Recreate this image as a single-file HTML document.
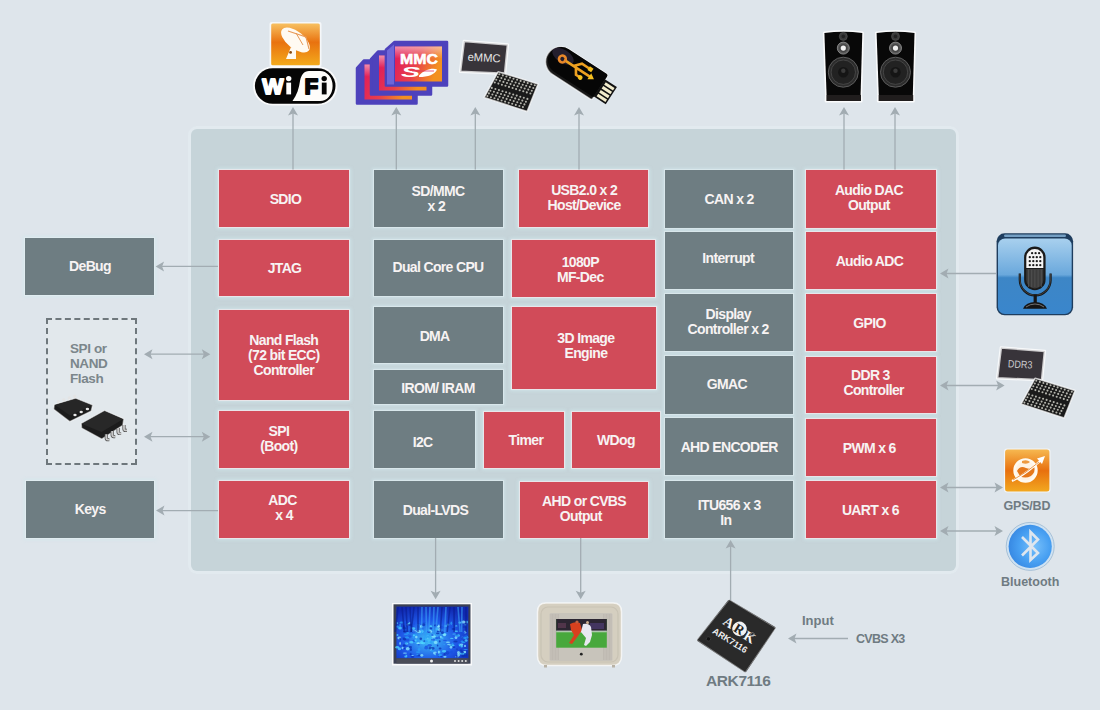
<!DOCTYPE html>
<html><head><meta charset="utf-8">
<style>
html,body{margin:0;padding:0;}
body{width:1100px;height:710px;overflow:hidden;position:relative;background:#dee5eb;font-family:"Liberation Sans",sans-serif;}
.a{position:absolute;}
.bx{position:absolute;box-sizing:border-box;display:flex;align-items:center;justify-content:center;text-align:center;color:#f7f3f3;font-weight:bold;font-size:14px;line-height:15px;letter-spacing:-0.65px;}
.r{background:#d14b59;box-shadow:0 0 0 1px rgba(255,235,238,0.55),0 0 3px 2px rgba(208,232,238,0.7);}
.g{background:#6e7d82;box-shadow:0 0 0 1px rgba(235,242,245,0.45),0 0 3px 2px rgba(208,232,238,0.6);}
.lbl{position:absolute;color:#6f7b82;font-weight:bold;white-space:nowrap;}
</style></head><body>

<div class="a" style="left:191px;top:128.5px;width:765px;height:442px;background:#c6d4d9;border-radius:6px;box-shadow:0 0 0 3px rgba(235,244,248,0.3);"></div>
<div class="bx r" style="left:218.5px;top:169.5px;width:130.0px;height:57.7px;"><span style="position:relative;left:2.0px;top:1.4px">SDIO</span></div>
<div class="bx r" style="left:218.5px;top:239.8px;width:130.0px;height:56.4px;"><span style="position:relative;left:1.0px;top:0.3px">JTAG</span></div>
<div class="bx r" style="left:218.5px;top:310.0px;width:130.0px;height:89.8px;"><span style="position:relative;left:0.3px;top:0.5px">Nand Flash<br>(72 bit ECC)<br>Controller</span></div>
<div class="bx r" style="left:218.5px;top:411.4px;width:130.0px;height:57.0px;"><span style="position:relative;left:-4.7px;top:-0.8px">SPI<br>(Boot)</span></div>
<div class="bx r" style="left:218.5px;top:481.1px;width:130.0px;height:57.0px;"><span style="position:relative;left:-1.0px;top:-1.5px">ADC<br>&nbsp;x 4</span></div>
<div class="bx g" style="left:373.5px;top:169.5px;width:129.0px;height:57.7px;"><span style="position:relative;left:0.0px;top:1.0px">SD/MMC<br>x 2&nbsp;</span></div>
<div class="bx g" style="left:373.5px;top:239.8px;width:129.0px;height:56.4px;"><span style="position:relative;left:0.0px;top:0.0px">Dual Core CPU</span></div>
<div class="bx g" style="left:373.5px;top:306.5px;width:129.0px;height:56.4px;"><span style="position:relative;left:-3.4px;top:2.0px">DMA</span></div>
<div class="bx g" style="left:373.5px;top:370.3px;width:129.0px;height:33.3px;"><span style="position:relative;left:0.0px;top:1.3px">IROM/ IRAM</span></div>
<div class="bx g" style="left:373.5px;top:410.7px;width:101.0px;height:57.3px;"><span style="position:relative;left:-1.4px;top:3.0px">I2C</span></div>
<div class="bx g" style="left:373.5px;top:480.6px;width:129.0px;height:57.5px;"><span style="position:relative;left:-2.6px;top:0.7px">Dual-LVDS</span></div>
<div class="bx r" style="left:519.4px;top:169.5px;width:128.4px;height:57.7px;"><span style="position:relative;left:0.5px;top:0.0px">USB2.0 x 2<br>Host/Device</span></div>
<div class="bx r" style="left:512.0px;top:239.8px;width:142.5px;height:57.1px;"><span style="position:relative;left:-3.0px;top:1.2px">1080P<br>MF-Dec</span></div>
<div class="bx r" style="left:512.0px;top:306.9px;width:143.8px;height:81.9px;"><span style="position:relative;left:2.0px;top:-1.6px">3D Image<br>Engine</span></div>
<div class="bx r" style="left:483.7px;top:412.2px;width:80.8px;height:56.0px;"><span style="position:relative;left:1.8px;top:0.0px">Timer</span></div>
<div class="bx r" style="left:572.3px;top:412.2px;width:87.3px;height:56.0px;"><span style="position:relative;left:0.0px;top:0.7px">WDog</span></div>
<div class="bx r" style="left:519.8px;top:481.6px;width:128.5px;height:56.5px;"><span style="position:relative;left:0.0px;top:-0.6px">AHD or CVBS<br>Output&nbsp;&nbsp;</span></div>
<div class="bx g" style="left:665.2px;top:169.5px;width:128.0px;height:58.5px;"><span style="position:relative;left:0.0px;top:0.8px">CAN x 2</span></div>
<div class="bx g" style="left:665.2px;top:232.2px;width:128.0px;height:56.6px;"><span style="position:relative;left:-1.0px;top:-1.5px">Interrupt</span></div>
<div class="bx g" style="left:665.2px;top:293.6px;width:128.0px;height:57.2px;"><span style="position:relative;left:-1.0px;top:0.0px">Display<br>Controller x 2</span></div>
<div class="bx g" style="left:665.2px;top:356.0px;width:128.0px;height:57.5px;"><span style="position:relative;left:-2.3px;top:-0.5px">GMAC</span></div>
<div class="bx g" style="left:665.2px;top:418.3px;width:128.0px;height:57.2px;"><span style="position:relative;left:0.0px;top:1.0px">AHD ENCODER</span></div>
<div class="bx g" style="left:665.2px;top:480.6px;width:128.0px;height:57.5px;"><span style="position:relative;left:0.0px;top:4.0px">ITU656 x 3<br>In&nbsp;&nbsp;</span></div>
<div class="bx r" style="left:805.5px;top:169.5px;width:130.8px;height:58.0px;"><span style="position:relative;left:-2.0px;top:-0.8px">Audio DAC<br>Output</span></div>
<div class="bx r" style="left:805.5px;top:232.1px;width:130.8px;height:56.7px;"><span style="position:relative;left:-1.5px;top:1.5px">Audio ADC</span></div>
<div class="bx r" style="left:805.5px;top:293.7px;width:130.8px;height:57.1px;"><span style="position:relative;left:-1.4px;top:1.0px">GPIO</span></div>
<div class="bx r" style="left:805.5px;top:356.5px;width:130.8px;height:56.5px;"><span style="position:relative;left:-0.5px;top:-2.0px">DDR 3<br>&nbsp;&nbsp;Controller</span></div>
<div class="bx r" style="left:805.5px;top:419.0px;width:130.8px;height:56.5px;"><span style="position:relative;left:-1.7px;top:1.0px">PWM x 6</span></div>
<div class="bx r" style="left:805.5px;top:480.8px;width:130.8px;height:57.3px;"><span style="position:relative;left:-0.5px;top:1.0px">UART x 6</span></div>
<div class="bx g" style="left:25.0px;top:238.0px;width:129.0px;height:57.0px;"><span style="position:relative;left:0.5px;top:0.0px">DeBug</span></div>
<div class="bx g" style="left:26.0px;top:481.4px;width:128.4px;height:56.6px;"><span style="position:relative;left:0.0px;top:-0.7px">Keys</span></div>
<svg class="a" style="left:0;top:0" width="1100" height="710" viewBox="0 0 1100 710">
<line x1="293.0" y1="113.0" x2="293.0" y2="169.5" stroke="#a2acb2" stroke-width="1.3"/>
<polygon points="293.0,107.0 298.0,115.5 293.0,113.5 288.0,115.5" fill="#a2acb2"/>
<line x1="396.3" y1="113.0" x2="396.3" y2="169.5" stroke="#a2acb2" stroke-width="1.3"/>
<polygon points="396.3,107.0 401.3,115.5 396.3,113.5 391.3,115.5" fill="#a2acb2"/>
<line x1="475.3" y1="113.0" x2="475.3" y2="169.5" stroke="#a2acb2" stroke-width="1.3"/>
<polygon points="475.3,107.0 480.3,115.5 475.3,113.5 470.3,115.5" fill="#a2acb2"/>
<line x1="579.0" y1="113.0" x2="579.0" y2="169.5" stroke="#a2acb2" stroke-width="1.3"/>
<polygon points="579.0,107.0 584.0,115.5 579.0,113.5 574.0,115.5" fill="#a2acb2"/>
<line x1="844.0" y1="113.0" x2="844.0" y2="169.5" stroke="#a2acb2" stroke-width="1.3"/>
<polygon points="844.0,107.0 849.0,115.5 844.0,113.5 839.0,115.5" fill="#a2acb2"/>
<line x1="895.0" y1="113.0" x2="895.0" y2="169.5" stroke="#a2acb2" stroke-width="1.3"/>
<polygon points="895.0,107.0 900.0,115.5 895.0,113.5 890.0,115.5" fill="#a2acb2"/>
<line x1="162.0" y1="266.4" x2="218.0" y2="266.4" stroke="#a2acb2" stroke-width="1.3"/>
<polygon points="155.6,266.4 164.1,261.4 162.1,266.4 164.1,271.4" fill="#a2acb2"/>
<line x1="162.0" y1="510.6" x2="218.0" y2="510.6" stroke="#a2acb2" stroke-width="1.3"/>
<polygon points="156.0,510.6 164.5,505.6 162.5,510.6 164.5,515.6" fill="#a2acb2"/>
<line x1="150.0" y1="354.2" x2="204.0" y2="354.2" stroke="#a2acb2" stroke-width="1.3"/>
<polygon points="144.0,354.2 152.5,349.2 150.5,354.2 152.5,359.2" fill="#a2acb2"/>
<polygon points="210.3,354.2 201.8,359.2 203.8,354.2 201.8,349.2" fill="#a2acb2"/>
<line x1="150.0" y1="436.7" x2="204.0" y2="436.7" stroke="#a2acb2" stroke-width="1.3"/>
<polygon points="144.0,436.7 152.5,431.7 150.5,436.7 152.5,441.7" fill="#a2acb2"/>
<polygon points="210.3,436.7 201.8,441.7 203.8,436.7 201.8,431.7" fill="#a2acb2"/>
<line x1="946.0" y1="273.5" x2="996.0" y2="273.5" stroke="#a2acb2" stroke-width="1.3"/>
<polygon points="940.0,273.5 948.5,268.5 946.5,273.5 948.5,278.5" fill="#a2acb2"/>
<line x1="946.0" y1="385.5" x2="998.6" y2="385.5" stroke="#a2acb2" stroke-width="1.3"/>
<polygon points="940.0,385.5 948.5,380.5 946.5,385.5 948.5,390.5" fill="#a2acb2"/>
<polygon points="1004.6,385.5 996.1,390.5 998.1,385.5 996.1,380.5" fill="#a2acb2"/>
<line x1="946.0" y1="487.5" x2="997.0" y2="487.5" stroke="#a2acb2" stroke-width="1.3"/>
<polygon points="940.0,487.5 948.5,482.5 946.5,487.5 948.5,492.5" fill="#a2acb2"/>
<polygon points="1003.0,487.5 994.5,492.5 996.5,487.5 994.5,482.5" fill="#a2acb2"/>
<line x1="946.0" y1="531.0" x2="997.0" y2="531.0" stroke="#a2acb2" stroke-width="1.3"/>
<polygon points="940.0,531.0 948.5,526.0 946.5,531.0 948.5,536.0" fill="#a2acb2"/>
<polygon points="1003.0,531.0 994.5,536.0 996.5,531.0 994.5,526.0" fill="#a2acb2"/>
<line x1="435.6" y1="538.0" x2="435.6" y2="593.0" stroke="#a2acb2" stroke-width="1.3"/>
<polygon points="435.6,599.3 430.6,590.8 435.6,592.8 440.6,590.8" fill="#a2acb2"/>
<line x1="580.7" y1="538.0" x2="580.7" y2="593.0" stroke="#a2acb2" stroke-width="1.3"/>
<polygon points="580.7,599.3 575.7,590.8 580.7,592.8 585.7,590.8" fill="#a2acb2"/>
<line x1="730.6" y1="546.0" x2="730.6" y2="601.0" stroke="#a2acb2" stroke-width="1.3"/>
<polygon points="730.6,540.0 735.6,548.5 730.6,546.5 725.6,548.5" fill="#a2acb2"/>
<line x1="794.0" y1="638.5" x2="848.0" y2="638.5" stroke="#a2acb2" stroke-width="1.3"/>
<polygon points="788.0,638.5 796.5,633.5 794.5,638.5 796.5,643.5" fill="#a2acb2"/>
</svg>
<div class="a" style="left:46px;top:317.5px;width:91px;height:147px;box-sizing:border-box;border:2px dashed #6e777c;background:#e2e8ec;"></div>
<div class="lbl" style="left:70px;top:340.5px;font-size:13.5px;line-height:15px;letter-spacing:-0.4px;color:#7b868b;">SPI or<br>NAND<br>Flash</div>
<div class="lbl" style="left:1003.5px;top:499px;font-size:12.5px;letter-spacing:-0.2px;">GPS/BD</div>
<div class="lbl" style="left:1001px;top:575px;font-size:12.5px;">Bluetooth</div>
<div class="lbl" style="left:706px;top:672px;font-size:15.5px;letter-spacing:-0.4px;">ARK7116</div>
<div class="lbl" style="left:802px;top:613px;font-size:13px;">Input</div>
<div class="lbl" style="left:856px;top:632px;font-size:12.5px;letter-spacing:-0.7px;">CVBS X3</div>
<svg class="a" style="left:0;top:0" width="1100" height="710" viewBox="0 0 1100 710">
<defs>
 <linearGradient id="gOr" x1="0" y1="0" x2="0" y2="1">
  <stop offset="0" stop-color="#f7c060"/><stop offset="0.45" stop-color="#e9720f"/><stop offset="1" stop-color="#f3aa1c"/>
 </linearGradient>
 <linearGradient id="gSd" x1="0" y1="0" x2="1" y2="0.3">
  <stop offset="0" stop-color="#e0185c"/><stop offset="0.55" stop-color="#e8404a"/><stop offset="1" stop-color="#f39020"/>
 </linearGradient>
</defs>
<!-- WIFI -->
<g>
 <rect x="269.5" y="22" width="52" height="45" rx="2" fill="#fff" opacity="0.7"/>
 <rect x="271.2" y="23.5" width="48.6" height="41.8" rx="1.5" fill="url(#gOr)"/>
 <ellipse cx="295.5" cy="40" rx="17" ry="8.5" transform="rotate(38 295.5 40)" fill="#fffaf2"/>
 <path d="M288,31 L306,37 L309,49" stroke="#e89a58" stroke-width="1.1" fill="none"/>
 <path d="M296,33 L303,45" stroke="#e89a58" stroke-width="1" fill="none"/>
 <path d="M291,47 L286,59 L296,59 L296,49 Z" fill="#fffaf2"/>
 <circle cx="290.6" cy="52.4" r="1.4" fill="#8a4a10"/>
 <rect x="253" y="66.5" width="84.5" height="39" rx="19.5" fill="#fff" opacity="0.8"/>
 <rect x="254.9" y="68.2" width="80.6" height="35.6" rx="17.8" fill="#050505"/>
 <path d="M309,71 L320,71 A12.5,15 0 0 1 332.6,86 A12.5,15 0 0 1 320,101 L292.5,101 C297,95 299,88 300,81 C301,75 304,71 309,71 Z" fill="#fefdfa"/>
 <text x="262.2" y="94.4" font-family="Liberation Sans" font-weight="bold" font-size="22.5" fill="#fff" stroke="#fff" stroke-width="1.8" stroke-linejoin="round">W</text>
 <rect x="286.3" y="82.6" width="4.8" height="11.8" fill="#fff"/><circle cx="288.7" cy="78.6" r="2.7" fill="#fff"/>
 <text x="304.4" y="94.4" font-family="Liberation Sans" font-weight="bold" font-size="22.5" fill="#050505" stroke="#050505" stroke-width="1.8" stroke-linejoin="round">F</text>
 <rect x="321.8" y="82.6" width="4.8" height="11.8" fill="#050505"/><circle cx="324.2" cy="78.6" r="2.7" fill="#050505"/>
</g>
<!-- SD CARDS -->
<defs>
 <linearGradient id="gSdTop" x1="0" y1="0" x2="0" y2="1">
  <stop offset="0" stop-color="#fff" stop-opacity="0.5"/><stop offset="0.35" stop-color="#fff" stop-opacity="0"/>
 </linearGradient>
</defs>
<g stroke-linejoin="round">
 <path d="M357,68 L364,60.4 L416.5,60.4 L416.5,103.5 L357,103.5 Z" fill="#4d42bc" stroke="#4d42bc" stroke-width="2.5"/>
 <rect x="364.5" y="64.5" width="47.5" height="35" fill="url(#gSd)"/>
 <rect x="364.5" y="64.5" width="47.5" height="35" fill="url(#gSdTop)"/>
 <path d="M371,59 L378,51.5 L431,51.5 L431,94.6 L371,94.6 Z" fill="#4d42bc" stroke="#4d42bc" stroke-width="2.5"/>
 <rect x="379" y="55.5" width="47.5" height="35" fill="url(#gSd)"/>
 <rect x="379" y="55.5" width="47.5" height="35" fill="url(#gSdTop)"/>
 <path d="M385.9,49.7 L394.6,42 L447,42 L447,85.6 L385.9,85.6 Z" fill="#4d42bc" stroke="#4d42bc" stroke-width="2.5"/>
 <path d="M387,50.5 L394,44.5 L394,84.5 L387,84.5 Z" fill="#6e66d8"/>
 <rect x="395" y="46.5" width="47" height="35" fill="url(#gSd)"/>
 <rect x="395" y="46.5" width="47" height="35" fill="url(#gSdTop)"/>
 <text x="400" y="63.5" font-family="Liberation Sans" font-weight="bold" font-size="15" fill="#fff" stroke="#fff" stroke-width="0.6" textLength="38" lengthAdjust="spacingAndGlyphs">MMC</text>
 <text x="401" y="77" font-family="Liberation Sans" font-weight="bold" font-style="italic" font-size="15" fill="#fff" textLength="19" lengthAdjust="spacingAndGlyphs">S</text>
 <path d="M419,75.5 C424,70 432,67.5 437,69.5 C435,74.5 428,77 419,77 Z" fill="#fff"/>
 <path d="M412,71 L434,71" stroke="#e0306a" stroke-width="0.8"/>
</g>
</svg>
<svg class="a" style="left:0;top:0" width="1100" height="710" viewBox="0 0 1100 710">
<defs>
 <linearGradient id="gBlue" x1="0" y1="0" x2="0" y2="1">
  <stop offset="0" stop-color="#a8d0ee"/><stop offset="0.48" stop-color="#6aa8dc"/><stop offset="0.52" stop-color="#3d86c6"/><stop offset="1" stop-color="#3a86cc"/>
 </linearGradient>
 <radialGradient id="gBt" cx="0.6" cy="0.5" r="0.65">
  <stop offset="0" stop-color="#78c0fa"/><stop offset="0.55" stop-color="#48a0f2"/><stop offset="1" stop-color="#3484e0"/>
 </radialGradient>
 <radialGradient id="gScr" cx="0.45" cy="0.65" r="0.7">
  <stop offset="0" stop-color="#40c0f8"/><stop offset="0.55" stop-color="#1e58e8"/><stop offset="1" stop-color="#1028b0"/>
 </radialGradient>
 <linearGradient id="gField" x1="0" y1="0" x2="0" y2="1">
  <stop offset="0" stop-color="#2a2a30"/><stop offset="0.35" stop-color="#5a4040"/><stop offset="0.45" stop-color="#3c9a38"/><stop offset="1" stop-color="#48a83a"/>
 </linearGradient>
 <linearGradient id="gOr2" x1="0" y1="0" x2="0" y2="1">
  <stop offset="0" stop-color="#f6b850"/><stop offset="0.5" stop-color="#e8700e"/><stop offset="1" stop-color="#f2a820"/>
 </linearGradient>
</defs>
<polygon points="463.9,41.0 507.9,44.5 505.0,73.7 460.1,71.8" fill="#38343a" stroke="#fff" stroke-opacity="0.75" stroke-width="2.5" stroke-linejoin="round"/>
<text x="467.6" y="61.5" font-family="Liberation Sans" font-size="11.5" fill="#e6e6e6" transform="rotate(3 484.0 57.0)" textLength="33.0" lengthAdjust="spacingAndGlyphs">eMMC</text>
<polygon points="498.2,71.7 538.0,84.0 527.1,111.5 484.2,97.4" fill="#1a1a1a" stroke="#fff" stroke-opacity="0.7" stroke-width="1.5" stroke-linejoin="round"/>
<circle cx="499.3" cy="74.3" r="1.05" fill="#b4b4ac"/>
<circle cx="502.8" cy="75.4" r="1.05" fill="#b4b4ac"/>
<circle cx="506.4" cy="76.5" r="1.05" fill="#b4b4ac"/>
<circle cx="510.0" cy="77.6" r="1.05" fill="#b4b4ac"/>
<circle cx="513.5" cy="78.7" r="1.05" fill="#b4b4ac"/>
<circle cx="517.1" cy="79.8" r="1.05" fill="#b4b4ac"/>
<circle cx="520.6" cy="80.9" r="1.05" fill="#b4b4ac"/>
<circle cx="524.2" cy="82.0" r="1.05" fill="#b4b4ac"/>
<circle cx="527.7" cy="83.1" r="1.05" fill="#b4b4ac"/>
<circle cx="531.3" cy="84.2" r="1.05" fill="#b4b4ac"/>
<circle cx="534.8" cy="85.3" r="1.05" fill="#b4b4ac"/>
<circle cx="497.8" cy="77.0" r="1.05" fill="#b4b4ac"/>
<circle cx="501.4" cy="78.1" r="1.05" fill="#b4b4ac"/>
<circle cx="504.9" cy="79.2" r="1.05" fill="#b4b4ac"/>
<circle cx="508.5" cy="80.3" r="1.05" fill="#b4b4ac"/>
<circle cx="512.0" cy="81.4" r="1.05" fill="#b4b4ac"/>
<circle cx="515.6" cy="82.5" r="1.05" fill="#b4b4ac"/>
<circle cx="519.1" cy="83.6" r="1.05" fill="#b4b4ac"/>
<circle cx="522.7" cy="84.7" r="1.05" fill="#b4b4ac"/>
<circle cx="526.2" cy="85.8" r="1.05" fill="#b4b4ac"/>
<circle cx="529.8" cy="86.9" r="1.05" fill="#b4b4ac"/>
<circle cx="533.3" cy="88.0" r="1.05" fill="#b4b4ac"/>
<circle cx="496.3" cy="79.7" r="1.05" fill="#b4b4ac"/>
<circle cx="499.9" cy="80.8" r="1.05" fill="#b4b4ac"/>
<circle cx="503.4" cy="81.9" r="1.05" fill="#b4b4ac"/>
<circle cx="507.0" cy="83.0" r="1.05" fill="#b4b4ac"/>
<circle cx="510.5" cy="84.1" r="1.05" fill="#b4b4ac"/>
<circle cx="514.1" cy="85.2" r="1.05" fill="#b4b4ac"/>
<circle cx="517.6" cy="86.3" r="1.05" fill="#b4b4ac"/>
<circle cx="521.2" cy="87.4" r="1.05" fill="#b4b4ac"/>
<circle cx="524.7" cy="88.5" r="1.05" fill="#b4b4ac"/>
<circle cx="528.3" cy="89.6" r="1.05" fill="#b4b4ac"/>
<circle cx="531.8" cy="90.7" r="1.05" fill="#b4b4ac"/>
<circle cx="494.8" cy="82.5" r="1.05" fill="#b4b4ac"/>
<circle cx="498.4" cy="83.6" r="1.05" fill="#b4b4ac"/>
<circle cx="501.9" cy="84.7" r="1.05" fill="#b4b4ac"/>
<circle cx="505.5" cy="85.8" r="1.05" fill="#b4b4ac"/>
<circle cx="509.0" cy="86.9" r="1.05" fill="#b4b4ac"/>
<circle cx="512.6" cy="88.0" r="1.05" fill="#b4b4ac"/>
<circle cx="516.1" cy="89.1" r="1.05" fill="#b4b4ac"/>
<circle cx="519.7" cy="90.2" r="1.05" fill="#b4b4ac"/>
<circle cx="523.3" cy="91.3" r="1.05" fill="#b4b4ac"/>
<circle cx="526.8" cy="92.4" r="1.05" fill="#b4b4ac"/>
<circle cx="530.4" cy="93.5" r="1.05" fill="#b4b4ac"/>
<circle cx="491.8" cy="87.9" r="1.05" fill="#b4b4ac"/>
<circle cx="495.4" cy="89.0" r="1.05" fill="#b4b4ac"/>
<circle cx="498.9" cy="90.1" r="1.05" fill="#b4b4ac"/>
<circle cx="502.5" cy="91.2" r="1.05" fill="#b4b4ac"/>
<circle cx="506.1" cy="92.3" r="1.05" fill="#b4b4ac"/>
<circle cx="509.6" cy="93.4" r="1.05" fill="#b4b4ac"/>
<circle cx="513.2" cy="94.5" r="1.05" fill="#b4b4ac"/>
<circle cx="516.7" cy="95.6" r="1.05" fill="#b4b4ac"/>
<circle cx="520.3" cy="96.7" r="1.05" fill="#b4b4ac"/>
<circle cx="523.8" cy="97.8" r="1.05" fill="#b4b4ac"/>
<circle cx="527.4" cy="98.9" r="1.05" fill="#b4b4ac"/>
<circle cx="490.4" cy="90.7" r="1.05" fill="#b4b4ac"/>
<circle cx="493.9" cy="91.8" r="1.05" fill="#b4b4ac"/>
<circle cx="497.5" cy="92.9" r="1.05" fill="#b4b4ac"/>
<circle cx="501.0" cy="94.0" r="1.05" fill="#b4b4ac"/>
<circle cx="504.6" cy="95.1" r="1.05" fill="#b4b4ac"/>
<circle cx="508.1" cy="96.2" r="1.05" fill="#b4b4ac"/>
<circle cx="511.7" cy="97.3" r="1.05" fill="#b4b4ac"/>
<circle cx="515.2" cy="98.4" r="1.05" fill="#b4b4ac"/>
<circle cx="518.8" cy="99.5" r="1.05" fill="#b4b4ac"/>
<circle cx="522.3" cy="100.6" r="1.05" fill="#b4b4ac"/>
<circle cx="525.9" cy="101.7" r="1.05" fill="#b4b4ac"/>
<circle cx="488.9" cy="93.4" r="1.05" fill="#b4b4ac"/>
<circle cx="492.4" cy="94.5" r="1.05" fill="#b4b4ac"/>
<circle cx="496.0" cy="95.6" r="1.05" fill="#b4b4ac"/>
<circle cx="499.5" cy="96.7" r="1.05" fill="#b4b4ac"/>
<circle cx="503.1" cy="97.8" r="1.05" fill="#b4b4ac"/>
<circle cx="506.6" cy="98.9" r="1.05" fill="#b4b4ac"/>
<circle cx="510.2" cy="100.0" r="1.05" fill="#b4b4ac"/>
<circle cx="513.7" cy="101.1" r="1.05" fill="#b4b4ac"/>
<circle cx="517.3" cy="102.2" r="1.05" fill="#b4b4ac"/>
<circle cx="520.8" cy="103.3" r="1.05" fill="#b4b4ac"/>
<circle cx="524.4" cy="104.4" r="1.05" fill="#b4b4ac"/>
<circle cx="487.4" cy="96.1" r="1.05" fill="#b4b4ac"/>
<circle cx="490.9" cy="97.2" r="1.05" fill="#b4b4ac"/>
<circle cx="494.5" cy="98.3" r="1.05" fill="#b4b4ac"/>
<circle cx="498.0" cy="99.4" r="1.05" fill="#b4b4ac"/>
<circle cx="501.6" cy="100.5" r="1.05" fill="#b4b4ac"/>
<circle cx="505.1" cy="101.6" r="1.05" fill="#b4b4ac"/>
<circle cx="508.7" cy="102.7" r="1.05" fill="#b4b4ac"/>
<circle cx="512.2" cy="103.8" r="1.05" fill="#b4b4ac"/>
<circle cx="515.8" cy="104.9" r="1.05" fill="#b4b4ac"/>
<circle cx="519.4" cy="106.0" r="1.05" fill="#b4b4ac"/>
<circle cx="522.9" cy="107.1" r="1.05" fill="#b4b4ac"/>
<polygon points="1000.9,347.5 1044.9,351.0 1042.0,380.2 997.1,378.3" fill="#38343a" stroke="#fff" stroke-opacity="0.75" stroke-width="2.5" stroke-linejoin="round"/>
<text x="1007.9" y="368.0" font-family="Liberation Sans" font-size="10.5" fill="#c8c8cc" transform="rotate(3 1021.0 363.5)" textLength="24.5" lengthAdjust="spacingAndGlyphs">DDR3</text>
<polygon points="1035.2,378.2 1075.0,390.5 1064.1,418.0 1021.2,403.9" fill="#1a1a1a" stroke="#fff" stroke-opacity="0.7" stroke-width="1.5" stroke-linejoin="round"/>
<circle cx="1036.3" cy="380.8" r="1.05" fill="#b4b4ac"/>
<circle cx="1039.8" cy="381.9" r="1.05" fill="#b4b4ac"/>
<circle cx="1043.4" cy="383.0" r="1.05" fill="#b4b4ac"/>
<circle cx="1047.0" cy="384.1" r="1.05" fill="#b4b4ac"/>
<circle cx="1050.5" cy="385.2" r="1.05" fill="#b4b4ac"/>
<circle cx="1054.1" cy="386.3" r="1.05" fill="#b4b4ac"/>
<circle cx="1057.6" cy="387.4" r="1.05" fill="#b4b4ac"/>
<circle cx="1061.2" cy="388.5" r="1.05" fill="#b4b4ac"/>
<circle cx="1064.7" cy="389.6" r="1.05" fill="#b4b4ac"/>
<circle cx="1068.3" cy="390.7" r="1.05" fill="#b4b4ac"/>
<circle cx="1071.8" cy="391.8" r="1.05" fill="#b4b4ac"/>
<circle cx="1034.8" cy="383.5" r="1.05" fill="#b4b4ac"/>
<circle cx="1038.4" cy="384.6" r="1.05" fill="#b4b4ac"/>
<circle cx="1041.9" cy="385.7" r="1.05" fill="#b4b4ac"/>
<circle cx="1045.5" cy="386.8" r="1.05" fill="#b4b4ac"/>
<circle cx="1049.0" cy="387.9" r="1.05" fill="#b4b4ac"/>
<circle cx="1052.6" cy="389.0" r="1.05" fill="#b4b4ac"/>
<circle cx="1056.1" cy="390.1" r="1.05" fill="#b4b4ac"/>
<circle cx="1059.7" cy="391.2" r="1.05" fill="#b4b4ac"/>
<circle cx="1063.2" cy="392.3" r="1.05" fill="#b4b4ac"/>
<circle cx="1066.8" cy="393.4" r="1.05" fill="#b4b4ac"/>
<circle cx="1070.3" cy="394.5" r="1.05" fill="#b4b4ac"/>
<circle cx="1033.3" cy="386.2" r="1.05" fill="#b4b4ac"/>
<circle cx="1036.9" cy="387.3" r="1.05" fill="#b4b4ac"/>
<circle cx="1040.4" cy="388.4" r="1.05" fill="#b4b4ac"/>
<circle cx="1044.0" cy="389.5" r="1.05" fill="#b4b4ac"/>
<circle cx="1047.5" cy="390.6" r="1.05" fill="#b4b4ac"/>
<circle cx="1051.1" cy="391.7" r="1.05" fill="#b4b4ac"/>
<circle cx="1054.6" cy="392.8" r="1.05" fill="#b4b4ac"/>
<circle cx="1058.2" cy="393.9" r="1.05" fill="#b4b4ac"/>
<circle cx="1061.7" cy="395.0" r="1.05" fill="#b4b4ac"/>
<circle cx="1065.3" cy="396.1" r="1.05" fill="#b4b4ac"/>
<circle cx="1068.8" cy="397.2" r="1.05" fill="#b4b4ac"/>
<circle cx="1031.8" cy="389.0" r="1.05" fill="#b4b4ac"/>
<circle cx="1035.4" cy="390.1" r="1.05" fill="#b4b4ac"/>
<circle cx="1038.9" cy="391.2" r="1.05" fill="#b4b4ac"/>
<circle cx="1042.5" cy="392.3" r="1.05" fill="#b4b4ac"/>
<circle cx="1046.0" cy="393.4" r="1.05" fill="#b4b4ac"/>
<circle cx="1049.6" cy="394.5" r="1.05" fill="#b4b4ac"/>
<circle cx="1053.1" cy="395.6" r="1.05" fill="#b4b4ac"/>
<circle cx="1056.7" cy="396.7" r="1.05" fill="#b4b4ac"/>
<circle cx="1060.3" cy="397.8" r="1.05" fill="#b4b4ac"/>
<circle cx="1063.8" cy="398.9" r="1.05" fill="#b4b4ac"/>
<circle cx="1067.4" cy="400.0" r="1.05" fill="#b4b4ac"/>
<circle cx="1028.8" cy="394.4" r="1.05" fill="#b4b4ac"/>
<circle cx="1032.4" cy="395.5" r="1.05" fill="#b4b4ac"/>
<circle cx="1035.9" cy="396.6" r="1.05" fill="#b4b4ac"/>
<circle cx="1039.5" cy="397.7" r="1.05" fill="#b4b4ac"/>
<circle cx="1043.1" cy="398.8" r="1.05" fill="#b4b4ac"/>
<circle cx="1046.6" cy="399.9" r="1.05" fill="#b4b4ac"/>
<circle cx="1050.2" cy="401.0" r="1.05" fill="#b4b4ac"/>
<circle cx="1053.7" cy="402.1" r="1.05" fill="#b4b4ac"/>
<circle cx="1057.3" cy="403.2" r="1.05" fill="#b4b4ac"/>
<circle cx="1060.8" cy="404.3" r="1.05" fill="#b4b4ac"/>
<circle cx="1064.4" cy="405.4" r="1.05" fill="#b4b4ac"/>
<circle cx="1027.4" cy="397.2" r="1.05" fill="#b4b4ac"/>
<circle cx="1030.9" cy="398.3" r="1.05" fill="#b4b4ac"/>
<circle cx="1034.5" cy="399.4" r="1.05" fill="#b4b4ac"/>
<circle cx="1038.0" cy="400.5" r="1.05" fill="#b4b4ac"/>
<circle cx="1041.6" cy="401.6" r="1.05" fill="#b4b4ac"/>
<circle cx="1045.1" cy="402.7" r="1.05" fill="#b4b4ac"/>
<circle cx="1048.7" cy="403.8" r="1.05" fill="#b4b4ac"/>
<circle cx="1052.2" cy="404.9" r="1.05" fill="#b4b4ac"/>
<circle cx="1055.8" cy="406.0" r="1.05" fill="#b4b4ac"/>
<circle cx="1059.3" cy="407.1" r="1.05" fill="#b4b4ac"/>
<circle cx="1062.9" cy="408.2" r="1.05" fill="#b4b4ac"/>
<circle cx="1025.9" cy="399.9" r="1.05" fill="#b4b4ac"/>
<circle cx="1029.4" cy="401.0" r="1.05" fill="#b4b4ac"/>
<circle cx="1033.0" cy="402.1" r="1.05" fill="#b4b4ac"/>
<circle cx="1036.5" cy="403.2" r="1.05" fill="#b4b4ac"/>
<circle cx="1040.1" cy="404.3" r="1.05" fill="#b4b4ac"/>
<circle cx="1043.6" cy="405.4" r="1.05" fill="#b4b4ac"/>
<circle cx="1047.2" cy="406.5" r="1.05" fill="#b4b4ac"/>
<circle cx="1050.7" cy="407.6" r="1.05" fill="#b4b4ac"/>
<circle cx="1054.3" cy="408.7" r="1.05" fill="#b4b4ac"/>
<circle cx="1057.8" cy="409.8" r="1.05" fill="#b4b4ac"/>
<circle cx="1061.4" cy="410.9" r="1.05" fill="#b4b4ac"/>
<circle cx="1024.4" cy="402.6" r="1.05" fill="#b4b4ac"/>
<circle cx="1027.9" cy="403.7" r="1.05" fill="#b4b4ac"/>
<circle cx="1031.5" cy="404.8" r="1.05" fill="#b4b4ac"/>
<circle cx="1035.0" cy="405.9" r="1.05" fill="#b4b4ac"/>
<circle cx="1038.6" cy="407.0" r="1.05" fill="#b4b4ac"/>
<circle cx="1042.1" cy="408.1" r="1.05" fill="#b4b4ac"/>
<circle cx="1045.7" cy="409.2" r="1.05" fill="#b4b4ac"/>
<circle cx="1049.2" cy="410.3" r="1.05" fill="#b4b4ac"/>
<circle cx="1052.8" cy="411.4" r="1.05" fill="#b4b4ac"/>
<circle cx="1056.4" cy="412.5" r="1.05" fill="#b4b4ac"/>
<circle cx="1059.9" cy="413.6" r="1.05" fill="#b4b4ac"/>
<g transform="translate(574,70.5) rotate(33)">
<path d="M-16,-15 L29,-15 Q31,-15 31,-13 L31,13 Q31,15 29,15 L-16,15 A15,15 0 0 1 -16,-15 Z" fill="#181818" stroke="#fff" stroke-opacity="0.6" stroke-width="1.5"/>
<path d="M-16,-15 L29,-15 Q31,-15 31,-13 L31,10.5 Q31,12 29,12 L-16,12 A13.5,13.5 0 0 1 -16,-15 Z" fill="#060606"/>
<ellipse cx="-17" cy="-6" rx="12" ry="6.5" fill="#6a5a8a" opacity="0.3"/>
<rect x="30.5" y="-9.5" width="14.5" height="20.5" fill="#111"/>
<rect x="33" y="-7.5" width="10.5" height="3" fill="#f2eccc"/>
<rect x="33" y="-2.9" width="10.5" height="3" fill="#f2eccc"/>
<rect x="33" y="1.7" width="10.5" height="3" fill="#f2eccc"/>
<rect x="33" y="6.3" width="10.5" height="3" fill="#f2eccc"/>
<path d="M-14,-3.5 L17,-3.5 M-3,-3.5 L3,-10 L12.6,-10 M0,-3.5 L4,2.5 L9,2.5" stroke="#eda020" stroke-width="2.6" fill="none"/>
<circle cx="-16" cy="-3.3" r="3.4" fill="none" stroke="#e8882a" stroke-width="2.6"/>
<polygon points="16,-7 21.5,-3.5 16,0" fill="#f5c020"/><rect x="11" y="-12.2" width="4.4" height="4.4" fill="#f5c020"/><circle cx="9" cy="2.5" r="2.4" fill="#f5c020"/>
</g>
<path d="M824.4,33 Q843.3,30.5 862.3,33 L860.6,95 L861.0,101 L826.2,101 L826.6,95 Z" fill="none" stroke="#fff" stroke-opacity="0.85" stroke-width="3.2" stroke-linejoin="round"/>
<path d="M824.4,33 Q843.3,30.5 862.3,33 L860.6,95 L826.6,95 Z" fill="#080808"/>
<rect x="826.4" y="95" width="34.6" height="6" fill="#201d1d"/>
<circle cx="843.3" cy="36.4" r="4" fill="#3a3a3a" stroke="#555" stroke-width="0.6"/><circle cx="843.3" cy="36.4" r="1.8" fill="#222"/>
<circle cx="843.3" cy="48.1" r="6" fill="#5a5a5a" stroke="#999" stroke-width="0.8"/><circle cx="843.3" cy="48.1" r="4.2" fill="#444"/><circle cx="843.3" cy="48.1" r="2.6" fill="#f0f0f0"/>
<circle cx="843.3" cy="72.2" r="15" fill="#2c2c2c" stroke="#5c5c5c" stroke-width="1"/><circle cx="843.3" cy="72.2" r="12.2" fill="#222" stroke="#4c4c4c" stroke-width="0.8"/><circle cx="843.3" cy="72.2" r="5.2" fill="#151515"/><circle cx="843.3" cy="70.8" r="2.2" fill="#3a3a3a"/>
<path d="M876.6,33 Q895.5,30.5 914.5,33 L912.8,95 L913.2,101 L878.4,101 L878.8,95 Z" fill="none" stroke="#fff" stroke-opacity="0.85" stroke-width="3.2" stroke-linejoin="round"/>
<path d="M876.6,33 Q895.5,30.5 914.5,33 L912.8,95 L878.8,95 Z" fill="#080808"/>
<rect x="878.6" y="95" width="34.6" height="6" fill="#201d1d"/>
<circle cx="895.5" cy="36.4" r="4" fill="#3a3a3a" stroke="#555" stroke-width="0.6"/><circle cx="895.5" cy="36.4" r="1.8" fill="#222"/>
<circle cx="895.5" cy="48.1" r="6" fill="#5a5a5a" stroke="#999" stroke-width="0.8"/><circle cx="895.5" cy="48.1" r="4.2" fill="#444"/><circle cx="895.5" cy="48.1" r="2.6" fill="#f0f0f0"/>
<circle cx="895.5" cy="72.2" r="15" fill="#2c2c2c" stroke="#5c5c5c" stroke-width="1"/><circle cx="895.5" cy="72.2" r="12.2" fill="#222" stroke="#4c4c4c" stroke-width="0.8"/><circle cx="895.5" cy="72.2" r="5.2" fill="#151515"/><circle cx="895.5" cy="70.8" r="2.2" fill="#3a3a3a"/>
<rect x="996.6" y="233.3" width="76.5" height="82" rx="8" fill="#1e3d5e"/>
<rect x="998" y="238.5" width="73.7" height="75.5" rx="7" fill="url(#gBlue)"/>
<rect x="1004" y="234.6" width="62" height="2.4" rx="1.2" fill="#8ab8dc" opacity="0.8"/>
<path d="M1019.8,273.5 L1019.8,280 A15.4,15.4 0 0 0 1050.6,280 L1050.6,273.5" fill="none" stroke="#151515" stroke-width="2.2"/>
<path d="M1019.8,274 L1019.8,280 A15.4,15.4 0 0 0 1050.6,280 L1050.6,274" fill="none" stroke="#888" stroke-width="0.6" opacity="0.6"/>
<rect x="1033.6" y="294.5" width="3.2" height="9.5" fill="#151515"/>
<path d="M1023,308.7 Q1026,302 1035.2,302 Q1044,302 1047,308.7 Z" fill="#151515"/>
<path d="M1026,307 Q1030,304 1035,304 Q1040,304 1044,307" fill="none" stroke="#999" stroke-width="0.7"/>
<rect x="1024.1" y="246.5" width="21.5" height="43.7" rx="10.75" fill="#1a1a1a"/>
<path d="M1026.3,268 L1026.3,257.5 A8.5,8.5 0 0 1 1043.3,257.5 L1043.3,268 Z" fill="#f4f4f4"/>
<circle cx="1032.1" cy="253.2" r="1.15" fill="#1a1a1a"/>
<circle cx="1035.6" cy="253.2" r="1.15" fill="#1a1a1a"/>
<circle cx="1039.1" cy="253.2" r="1.15" fill="#1a1a1a"/>
<circle cx="1029.8" cy="257.2" r="1.15" fill="#1a1a1a"/>
<circle cx="1033.3" cy="257.2" r="1.15" fill="#1a1a1a"/>
<circle cx="1036.8" cy="257.2" r="1.15" fill="#1a1a1a"/>
<circle cx="1040.3" cy="257.2" r="1.15" fill="#1a1a1a"/>
<circle cx="1029.8" cy="261.2" r="1.15" fill="#1a1a1a"/>
<circle cx="1033.3" cy="261.2" r="1.15" fill="#1a1a1a"/>
<circle cx="1036.8" cy="261.2" r="1.15" fill="#1a1a1a"/>
<circle cx="1040.3" cy="261.2" r="1.15" fill="#1a1a1a"/>
<circle cx="1029.8" cy="265.2" r="1.15" fill="#1a1a1a"/>
<circle cx="1033.3" cy="265.2" r="1.15" fill="#1a1a1a"/>
<circle cx="1036.8" cy="265.2" r="1.15" fill="#1a1a1a"/>
<circle cx="1040.3" cy="265.2" r="1.15" fill="#1a1a1a"/>
<path d="M1026.3,269 L1043.3,269 L1043.3,280 A8.5,8.5 0 0 1 1026.3,280 Z" fill="#3c3c3c"/>
<line x1="1028.5" y1="269.5" x2="1028.5" y2="287" stroke="#555" stroke-width="0.8"/>
<line x1="1031.7" y1="269.5" x2="1031.7" y2="287" stroke="#555" stroke-width="0.8"/>
<line x1="1034.9" y1="269.5" x2="1034.9" y2="287" stroke="#555" stroke-width="0.8"/>
<line x1="1038.1" y1="269.5" x2="1038.1" y2="287" stroke="#555" stroke-width="0.8"/>
<line x1="1041.3" y1="269.5" x2="1041.3" y2="287" stroke="#555" stroke-width="0.8"/>
<rect x="1004" y="448.5" width="46.5" height="44" rx="3" fill="#fff" opacity="0.6"/>
<rect x="1005.1" y="449.6" width="44.3" height="42" rx="2.5" fill="url(#gOr2)"/>
<circle cx="1025.5" cy="470.5" r="11" fill="#fff3e4" stroke="#fffaf0" stroke-width="2.4"/>
<path d="M1017,471 Q1020,465 1026,468 Q1031,470 1034,466 Q1036,472 1031,476 Q1025,479 1020,476 Z" fill="#e6781a"/>
<path d="M1022,461 Q1027,459 1030,462 Q1027,465 1022,463 Z" fill="#ee9a40"/>
<path d="M1012,481 Q1026,474 1040,461" stroke="#fff" stroke-width="2" fill="none"/>
<path d="M1013,480 Q1026,473 1039,462" stroke="#e8801a" stroke-width="0.8" fill="none"/>
<polygon points="1045,456 1037,458.5 1042,464" fill="#fff"/>
<circle cx="1030.2" cy="546.4" r="24" fill="#cfe2f2" stroke="#9ab8d0" stroke-width="0.8"/>
<circle cx="1030.2" cy="546.4" r="21.6" fill="url(#gBt)"/>
<path d="M1022,537 L1038,553 L1030.5,560 L1030.5,532 L1038,539.5 L1022,555.5" fill="none" stroke="#dfe6ee" stroke-width="2.6" stroke-linejoin="miter"/>
<rect x="392" y="603" width="80" height="62.5" fill="#fff" opacity="0.8"/>
<rect x="393.5" y="604.3" width="77" height="59.4" fill="#3b4053"/>
<rect x="396.4" y="606.6" width="72" height="51.8" fill="url(#gScr)"/>
<ellipse cx="413.7" cy="641.0" rx="1.4" ry="1.3" fill="#1a50e0" opacity="0.75"/>
<ellipse cx="401.6" cy="622.5" rx="2.1" ry="0.9" fill="#2aa0f8" opacity="0.75"/>
<ellipse cx="410.4" cy="647.1" rx="1.6" ry="1.2" fill="#0c30b0" opacity="0.75"/>
<ellipse cx="441.7" cy="627.3" rx="1.8" ry="1.6" fill="#1a50e0" opacity="0.75"/>
<ellipse cx="424.3" cy="622.5" rx="2.0" ry="0.8" fill="#1a50e0" opacity="0.75"/>
<ellipse cx="400.0" cy="649.3" rx="2.0" ry="0.9" fill="#1a50e0" opacity="0.75"/>
<ellipse cx="447.3" cy="652.8" rx="1.9" ry="1.6" fill="#0c30b0" opacity="0.75"/>
<ellipse cx="448.0" cy="642.2" rx="2.2" ry="0.7" fill="#90ecff" opacity="0.75"/>
<ellipse cx="403.8" cy="626.8" rx="1.1" ry="1.7" fill="#0c30b0" opacity="0.75"/>
<ellipse cx="451.5" cy="651.9" rx="1.4" ry="1.5" fill="#1a50e0" opacity="0.75"/>
<ellipse cx="421.6" cy="642.5" rx="1.7" ry="1.6" fill="#50d8ff" opacity="0.75"/>
<ellipse cx="456.9" cy="656.7" rx="1.8" ry="0.8" fill="#90ecff" opacity="0.75"/>
<ellipse cx="464.5" cy="653.7" rx="1.7" ry="1.4" fill="#2aa0f8" opacity="0.75"/>
<ellipse cx="441.3" cy="656.6" rx="1.2" ry="0.7" fill="#0c30b0" opacity="0.75"/>
<ellipse cx="456.8" cy="656.6" rx="0.9" ry="1.5" fill="#0c30b0" opacity="0.75"/>
<ellipse cx="459.8" cy="622.7" rx="1.4" ry="1.1" fill="#50d8ff" opacity="0.75"/>
<ellipse cx="400.1" cy="643.5" rx="0.9" ry="1.4" fill="#90ecff" opacity="0.75"/>
<ellipse cx="435.6" cy="654.3" rx="1.2" ry="0.9" fill="#50d8ff" opacity="0.75"/>
<ellipse cx="418.7" cy="624.7" rx="1.7" ry="0.6" fill="#2aa0f8" opacity="0.75"/>
<ellipse cx="465.0" cy="632.2" rx="1.2" ry="1.4" fill="#90ecff" opacity="0.75"/>
<ellipse cx="419.0" cy="655.6" rx="2.1" ry="1.0" fill="#0c30b0" opacity="0.75"/>
<ellipse cx="457.9" cy="635.5" rx="2.1" ry="1.3" fill="#50d8ff" opacity="0.75"/>
<ellipse cx="440.4" cy="654.9" rx="1.6" ry="1.1" fill="#2aa0f8" opacity="0.75"/>
<ellipse cx="462.6" cy="637.3" rx="1.2" ry="0.9" fill="#90ecff" opacity="0.75"/>
<ellipse cx="397.8" cy="636.5" rx="1.7" ry="0.6" fill="#1a50e0" opacity="0.75"/>
<ellipse cx="438.2" cy="626.7" rx="1.8" ry="1.0" fill="#90ecff" opacity="0.75"/>
<ellipse cx="444.5" cy="634.3" rx="1.9" ry="1.4" fill="#50d8ff" opacity="0.75"/>
<ellipse cx="438.3" cy="655.4" rx="0.8" ry="1.0" fill="#0c30b0" opacity="0.75"/>
<ellipse cx="417.9" cy="643.1" rx="1.1" ry="0.8" fill="#90ecff" opacity="0.75"/>
<ellipse cx="456.1" cy="631.2" rx="2.0" ry="0.7" fill="#50d8ff" opacity="0.75"/>
<ellipse cx="465.0" cy="645.9" rx="1.0" ry="1.2" fill="#90ecff" opacity="0.75"/>
<ellipse cx="413.7" cy="628.6" rx="1.5" ry="1.4" fill="#50d8ff" opacity="0.75"/>
<ellipse cx="439.1" cy="655.2" rx="1.8" ry="0.8" fill="#2aa0f8" opacity="0.75"/>
<ellipse cx="402.6" cy="648.0" rx="1.1" ry="1.2" fill="#90ecff" opacity="0.75"/>
<ellipse cx="412.8" cy="626.2" rx="1.6" ry="0.8" fill="#1a50e0" opacity="0.75"/>
<ellipse cx="409.9" cy="631.8" rx="2.0" ry="1.3" fill="#1a50e0" opacity="0.75"/>
<ellipse cx="421.2" cy="626.5" rx="1.2" ry="1.5" fill="#90ecff" opacity="0.75"/>
<ellipse cx="429.5" cy="644.2" rx="1.2" ry="1.2" fill="#50d8ff" opacity="0.75"/>
<ellipse cx="461.4" cy="627.5" rx="0.8" ry="1.6" fill="#1a50e0" opacity="0.75"/>
<ellipse cx="466.1" cy="637.2" rx="2.2" ry="1.6" fill="#2aa0f8" opacity="0.75"/>
<ellipse cx="399.3" cy="638.0" rx="1.9" ry="1.4" fill="#90ecff" opacity="0.75"/>
<ellipse cx="435.1" cy="653.1" rx="2.1" ry="1.5" fill="#90ecff" opacity="0.75"/>
<ellipse cx="405.4" cy="630.6" rx="0.9" ry="1.5" fill="#1a50e0" opacity="0.75"/>
<ellipse cx="461.7" cy="653.4" rx="2.1" ry="1.2" fill="#50d8ff" opacity="0.75"/>
<ellipse cx="430.7" cy="626.2" rx="1.6" ry="0.9" fill="#50d8ff" opacity="0.75"/>
<ellipse cx="433.7" cy="636.5" rx="2.2" ry="1.3" fill="#90ecff" opacity="0.75"/>
<ellipse cx="405.8" cy="656.0" rx="1.6" ry="1.5" fill="#50d8ff" opacity="0.75"/>
<ellipse cx="421.6" cy="628.9" rx="1.6" ry="1.5" fill="#2aa0f8" opacity="0.75"/>
<ellipse cx="413.8" cy="631.6" rx="2.1" ry="0.7" fill="#50d8ff" opacity="0.75"/>
<ellipse cx="431.1" cy="642.0" rx="1.4" ry="1.4" fill="#2aa0f8" opacity="0.75"/>
<ellipse cx="415.8" cy="640.5" rx="1.4" ry="1.1" fill="#50d8ff" opacity="0.75"/>
<ellipse cx="457.0" cy="649.1" rx="0.9" ry="0.7" fill="#0c30b0" opacity="0.75"/>
<ellipse cx="465.2" cy="651.9" rx="0.9" ry="1.2" fill="#90ecff" opacity="0.75"/>
<ellipse cx="408.0" cy="624.5" rx="1.4" ry="1.0" fill="#90ecff" opacity="0.75"/>
<ellipse cx="422.3" cy="628.7" rx="1.3" ry="0.7" fill="#1a50e0" opacity="0.75"/>
<ellipse cx="397.2" cy="647.3" rx="2.0" ry="1.2" fill="#50d8ff" opacity="0.75"/>
<ellipse cx="423.1" cy="643.2" rx="2.0" ry="1.0" fill="#50d8ff" opacity="0.75"/>
<ellipse cx="440.6" cy="637.1" rx="1.4" ry="1.1" fill="#90ecff" opacity="0.75"/>
<ellipse cx="426.4" cy="646.3" rx="1.5" ry="0.9" fill="#1a50e0" opacity="0.75"/>
<ellipse cx="415.9" cy="642.6" rx="2.0" ry="0.8" fill="#2aa0f8" opacity="0.75"/>
<ellipse cx="458.6" cy="654.8" rx="1.4" ry="1.6" fill="#90ecff" opacity="0.75"/>
<ellipse cx="405.5" cy="646.2" rx="2.2" ry="1.4" fill="#1a50e0" opacity="0.75"/>
<ellipse cx="452.5" cy="645.4" rx="1.9" ry="1.2" fill="#50d8ff" opacity="0.75"/>
<ellipse cx="453.8" cy="647.1" rx="1.5" ry="0.9" fill="#0c30b0" opacity="0.75"/>
<ellipse cx="400.1" cy="625.2" rx="0.9" ry="1.6" fill="#2aa0f8" opacity="0.75"/>
<ellipse cx="454.4" cy="634.0" rx="2.1" ry="0.6" fill="#50d8ff" opacity="0.75"/>
<ellipse cx="444.1" cy="651.3" rx="2.2" ry="1.2" fill="#50d8ff" opacity="0.75"/>
<ellipse cx="399.5" cy="648.9" rx="1.6" ry="1.4" fill="#50d8ff" opacity="0.75"/>
<ellipse cx="435.8" cy="625.5" rx="1.6" ry="1.2" fill="#1a50e0" opacity="0.75"/>
<ellipse cx="409.6" cy="624.7" rx="2.3" ry="1.3" fill="#0c30b0" opacity="0.75"/>
<ellipse cx="440.1" cy="648.4" rx="1.4" ry="1.0" fill="#0c30b0" opacity="0.75"/>
<ellipse cx="462.7" cy="641.5" rx="2.2" ry="1.0" fill="#2aa0f8" opacity="0.75"/>
<ellipse cx="465.1" cy="636.4" rx="1.9" ry="0.8" fill="#1a50e0" opacity="0.75"/>
<ellipse cx="449.9" cy="645.6" rx="1.6" ry="1.1" fill="#0c30b0" opacity="0.75"/>
<ellipse cx="459.8" cy="627.2" rx="0.9" ry="1.4" fill="#1a50e0" opacity="0.75"/>
<ellipse cx="463.5" cy="642.5" rx="2.1" ry="0.7" fill="#2aa0f8" opacity="0.75"/>
<ellipse cx="407.3" cy="640.0" rx="2.2" ry="1.5" fill="#1a50e0" opacity="0.75"/>
<ellipse cx="463.7" cy="632.4" rx="1.9" ry="1.1" fill="#1a50e0" opacity="0.75"/>
<ellipse cx="437.9" cy="631.4" rx="1.1" ry="0.6" fill="#0c30b0" opacity="0.75"/>
<ellipse cx="453.3" cy="629.0" rx="1.7" ry="0.9" fill="#0c30b0" opacity="0.75"/>
<ellipse cx="451.2" cy="627.0" rx="2.3" ry="1.1" fill="#1a50e0" opacity="0.75"/>
<ellipse cx="411.4" cy="642.3" rx="2.2" ry="1.3" fill="#50d8ff" opacity="0.75"/>
<ellipse cx="430.7" cy="647.2" rx="2.1" ry="1.0" fill="#50d8ff" opacity="0.75"/>
<ellipse cx="429.7" cy="630.0" rx="1.2" ry="1.4" fill="#50d8ff" opacity="0.75"/>
<ellipse cx="464.1" cy="651.9" rx="1.2" ry="0.8" fill="#90ecff" opacity="0.75"/>
<ellipse cx="406.6" cy="643.8" rx="1.8" ry="0.6" fill="#90ecff" opacity="0.75"/>
<ellipse cx="408.9" cy="623.6" rx="1.1" ry="0.7" fill="#50d8ff" opacity="0.75"/>
<ellipse cx="405.3" cy="631.2" rx="2.2" ry="0.6" fill="#0c30b0" opacity="0.75"/>
<ellipse cx="437.6" cy="645.6" rx="0.8" ry="1.0" fill="#0c30b0" opacity="0.75"/>
<ellipse cx="423.6" cy="624.7" rx="1.8" ry="1.4" fill="#0c30b0" opacity="0.75"/>
<ellipse cx="424.4" cy="641.1" rx="1.0" ry="0.9" fill="#0c30b0" opacity="0.75"/>
<ellipse cx="404.9" cy="653.1" rx="2.2" ry="0.7" fill="#90ecff" opacity="0.75"/>
<ellipse cx="444.5" cy="634.9" rx="1.5" ry="1.3" fill="#90ecff" opacity="0.75"/>
<ellipse cx="404.5" cy="655.1" rx="1.3" ry="1.2" fill="#1a50e0" opacity="0.75"/>
<ellipse cx="404.9" cy="639.3" rx="1.3" ry="1.4" fill="#1a50e0" opacity="0.75"/>
<ellipse cx="449.0" cy="644.6" rx="1.9" ry="0.8" fill="#90ecff" opacity="0.75"/>
<ellipse cx="459.3" cy="644.9" rx="1.0" ry="1.6" fill="#2aa0f8" opacity="0.75"/>
<ellipse cx="461.5" cy="644.6" rx="1.8" ry="1.1" fill="#90ecff" opacity="0.75"/>
<ellipse cx="442.3" cy="638.0" rx="1.3" ry="0.8" fill="#50d8ff" opacity="0.75"/>
<ellipse cx="404.5" cy="628.3" rx="1.6" ry="1.2" fill="#0c30b0" opacity="0.75"/>
<ellipse cx="422.1" cy="631.3" rx="1.4" ry="1.6" fill="#50d8ff" opacity="0.75"/>
<ellipse cx="430.5" cy="631.5" rx="1.8" ry="1.2" fill="#90ecff" opacity="0.75"/>
<ellipse cx="463.2" cy="637.7" rx="2.0" ry="0.7" fill="#0c30b0" opacity="0.75"/>
<ellipse cx="456.3" cy="625.9" rx="1.2" ry="0.7" fill="#50d8ff" opacity="0.75"/>
<ellipse cx="436.5" cy="653.8" rx="1.0" ry="1.4" fill="#1a50e0" opacity="0.75"/>
<ellipse cx="426.2" cy="648.0" rx="2.0" ry="1.4" fill="#1a50e0" opacity="0.75"/>
<ellipse cx="439.6" cy="652.1" rx="2.0" ry="1.2" fill="#2aa0f8" opacity="0.75"/>
<ellipse cx="436.8" cy="629.1" rx="1.2" ry="1.5" fill="#50d8ff" opacity="0.75"/>
<ellipse cx="456.0" cy="637.6" rx="1.4" ry="1.5" fill="#90ecff" opacity="0.75"/>
<ellipse cx="435.7" cy="642.4" rx="1.8" ry="1.7" fill="#90ecff" opacity="0.75"/>
<ellipse cx="459.7" cy="645.4" rx="0.8" ry="0.8" fill="#50d8ff" opacity="0.75"/>
<ellipse cx="404.5" cy="648.5" rx="1.2" ry="0.8" fill="#0c30b0" opacity="0.75"/>
<ellipse cx="410.9" cy="649.4" rx="1.1" ry="1.5" fill="#0c30b0" opacity="0.75"/>
<ellipse cx="404.8" cy="631.9" rx="1.8" ry="0.8" fill="#0c30b0" opacity="0.75"/>
<ellipse cx="452.5" cy="643.8" rx="0.9" ry="1.0" fill="#2aa0f8" opacity="0.75"/>
<ellipse cx="432.4" cy="639.5" rx="0.8" ry="1.0" fill="#90ecff" opacity="0.75"/>
<ellipse cx="457.9" cy="646.3" rx="1.0" ry="1.5" fill="#1a50e0" opacity="0.75"/>
<ellipse cx="451.3" cy="623.2" rx="0.9" ry="1.7" fill="#2aa0f8" opacity="0.75"/>
<ellipse cx="462.2" cy="652.2" rx="1.5" ry="1.4" fill="#0c30b0" opacity="0.75"/>
<ellipse cx="419.1" cy="649.5" rx="1.4" ry="1.5" fill="#2aa0f8" opacity="0.75"/>
<ellipse cx="424.4" cy="638.6" rx="0.9" ry="1.5" fill="#2aa0f8" opacity="0.75"/>
<ellipse cx="442.4" cy="632.7" rx="1.5" ry="1.4" fill="#0c30b0" opacity="0.75"/>
<ellipse cx="427.7" cy="637.9" rx="0.9" ry="0.9" fill="#90ecff" opacity="0.75"/>
<ellipse cx="428.3" cy="634.7" rx="1.4" ry="1.7" fill="#2aa0f8" opacity="0.75"/>
<ellipse cx="415.1" cy="634.9" rx="2.1" ry="1.2" fill="#2aa0f8" opacity="0.75"/>
<ellipse cx="411.7" cy="628.0" rx="1.4" ry="0.8" fill="#50d8ff" opacity="0.75"/>
<ellipse cx="406.7" cy="643.3" rx="1.5" ry="0.8" fill="#50d8ff" opacity="0.75"/>
<ellipse cx="425.2" cy="633.1" rx="0.8" ry="1.4" fill="#2aa0f8" opacity="0.75"/>
<ellipse cx="425.2" cy="635.9" rx="0.8" ry="1.7" fill="#2aa0f8" opacity="0.75"/>
<ellipse cx="413.9" cy="635.6" rx="1.1" ry="1.0" fill="#50d8ff" opacity="0.75"/>
<ellipse cx="421.2" cy="626.3" rx="0.9" ry="1.4" fill="#90ecff" opacity="0.75"/>
<ellipse cx="465.7" cy="655.0" rx="2.0" ry="1.7" fill="#0c30b0" opacity="0.75"/>
<ellipse cx="414.5" cy="631.3" rx="2.0" ry="1.3" fill="#90ecff" opacity="0.75"/>
<ellipse cx="419.2" cy="624.0" rx="1.5" ry="0.7" fill="#1a50e0" opacity="0.75"/>
<ellipse cx="397.3" cy="623.1" rx="0.9" ry="0.8" fill="#50d8ff" opacity="0.75"/>
<ellipse cx="430.7" cy="628.6" rx="1.6" ry="1.0" fill="#0c30b0" opacity="0.75"/>
<ellipse cx="420.8" cy="638.8" rx="1.3" ry="1.3" fill="#0c30b0" opacity="0.75"/>
<ellipse cx="418.3" cy="643.2" rx="2.2" ry="0.7" fill="#90ecff" opacity="0.75"/>
<ellipse cx="409.9" cy="636.5" rx="1.6" ry="1.2" fill="#1a50e0" opacity="0.75"/>
<ellipse cx="444.6" cy="654.5" rx="1.1" ry="1.4" fill="#0c30b0" opacity="0.75"/>
<ellipse cx="455.5" cy="641.4" rx="2.2" ry="1.0" fill="#0c30b0" opacity="0.75"/>
<ellipse cx="427.7" cy="637.6" rx="1.9" ry="1.0" fill="#2aa0f8" opacity="0.75"/>
<ellipse cx="432.5" cy="648.3" rx="2.2" ry="1.4" fill="#0c30b0" opacity="0.75"/>
<ellipse cx="400.0" cy="628.0" rx="1.9" ry="1.5" fill="#50d8ff" opacity="0.75"/>
<ellipse cx="450.1" cy="645.7" rx="0.9" ry="0.9" fill="#50d8ff" opacity="0.75"/>
<ellipse cx="458.5" cy="652.5" rx="1.5" ry="1.6" fill="#90ecff" opacity="0.75"/>
<ellipse cx="466.8" cy="622.1" rx="1.1" ry="1.5" fill="#50d8ff" opacity="0.75"/>
<ellipse cx="420.7" cy="632.9" rx="1.5" ry="1.5" fill="#2aa0f8" opacity="0.75"/>
<ellipse cx="413.8" cy="623.7" rx="1.0" ry="1.3" fill="#1a50e0" opacity="0.75"/>
<ellipse cx="466.0" cy="625.9" rx="1.2" ry="0.8" fill="#1a50e0" opacity="0.75"/>
<ellipse cx="433.1" cy="639.7" rx="2.2" ry="1.0" fill="#1a50e0" opacity="0.75"/>
<ellipse cx="451.8" cy="638.4" rx="1.7" ry="0.6" fill="#50d8ff" opacity="0.75"/>
<ellipse cx="438.9" cy="652.1" rx="1.0" ry="1.6" fill="#90ecff" opacity="0.75"/>
<ellipse cx="403.0" cy="638.3" rx="1.1" ry="1.5" fill="#1a50e0" opacity="0.75"/>
<ellipse cx="404.6" cy="639.0" rx="1.8" ry="1.4" fill="#0c30b0" opacity="0.75"/>
<ellipse cx="439.2" cy="637.6" rx="1.0" ry="1.5" fill="#1a50e0" opacity="0.75"/>
<ellipse cx="428.1" cy="635.3" rx="1.0" ry="0.6" fill="#90ecff" opacity="0.75"/>
<ellipse cx="448.0" cy="624.7" rx="1.3" ry="1.1" fill="#50d8ff" opacity="0.75"/>
<ellipse cx="461.7" cy="646.0" rx="1.3" ry="1.5" fill="#50d8ff" opacity="0.75"/>
<ellipse cx="439.4" cy="629.5" rx="1.3" ry="1.7" fill="#90ecff" opacity="0.75"/>
<ellipse cx="413.5" cy="637.4" rx="1.2" ry="1.0" fill="#2aa0f8" opacity="0.75"/>
<ellipse cx="447.8" cy="652.6" rx="2.3" ry="1.3" fill="#1a50e0" opacity="0.75"/>
<ellipse cx="456.7" cy="634.9" rx="1.1" ry="1.3" fill="#0c30b0" opacity="0.75"/>
<ellipse cx="430.9" cy="649.1" rx="1.4" ry="1.7" fill="#50d8ff" opacity="0.75"/>
<ellipse cx="417.4" cy="654.7" rx="1.1" ry="0.7" fill="#2aa0f8" opacity="0.75"/>
<ellipse cx="417.6" cy="640.2" rx="1.8" ry="0.6" fill="#2aa0f8" opacity="0.75"/>
<ellipse cx="416.3" cy="637.1" rx="1.3" ry="1.4" fill="#90ecff" opacity="0.75"/>
<ellipse cx="407.0" cy="637.5" rx="2.2" ry="1.1" fill="#2aa0f8" opacity="0.75"/>
<ellipse cx="407.7" cy="648.7" rx="1.9" ry="1.7" fill="#90ecff" opacity="0.75"/>
<ellipse cx="463.0" cy="637.1" rx="2.2" ry="1.1" fill="#1a50e0" opacity="0.75"/>
<ellipse cx="412.6" cy="655.5" rx="1.2" ry="0.6" fill="#90ecff" opacity="0.75"/>
<ellipse cx="459.1" cy="650.2" rx="1.2" ry="0.9" fill="#1a50e0" opacity="0.75"/>
<ellipse cx="397.7" cy="626.6" rx="1.6" ry="1.2" fill="#2aa0f8" opacity="0.75"/>
<ellipse cx="463.5" cy="622.1" rx="2.3" ry="1.5" fill="#90ecff" opacity="0.75"/>
<ellipse cx="465.6" cy="649.5" rx="2.3" ry="0.6" fill="#2aa0f8" opacity="0.75"/>
<ellipse cx="413.7" cy="631.7" rx="2.2" ry="1.5" fill="#1a50e0" opacity="0.75"/>
<ellipse cx="435.2" cy="625.3" rx="1.3" ry="0.9" fill="#0c30b0" opacity="0.75"/>
<ellipse cx="426.3" cy="631.1" rx="0.9" ry="1.1" fill="#2aa0f8" opacity="0.75"/>
<ellipse cx="460.9" cy="650.3" rx="1.2" ry="0.7" fill="#0c30b0" opacity="0.75"/>
<ellipse cx="432.6" cy="651.1" rx="1.6" ry="0.9" fill="#2aa0f8" opacity="0.75"/>
<ellipse cx="400.2" cy="639.0" rx="0.9" ry="1.5" fill="#0c30b0" opacity="0.75"/>
<ellipse cx="429.7" cy="645.3" rx="2.2" ry="1.5" fill="#1a50e0" opacity="0.75"/>
<ellipse cx="433.1" cy="635.0" rx="1.7" ry="0.9" fill="#50d8ff" opacity="0.75"/>
<ellipse cx="444.9" cy="656.7" rx="1.6" ry="1.0" fill="#90ecff" opacity="0.75"/>
<ellipse cx="428.1" cy="631.7" rx="1.2" ry="0.9" fill="#1a50e0" opacity="0.75"/>
<ellipse cx="407.9" cy="633.0" rx="1.6" ry="1.1" fill="#2aa0f8" opacity="0.75"/>
<ellipse cx="454.9" cy="654.6" rx="1.7" ry="0.6" fill="#1a50e0" opacity="0.75"/>
<ellipse cx="438.8" cy="626.1" rx="1.0" ry="1.5" fill="#90ecff" opacity="0.75"/>
<ellipse cx="404.2" cy="645.4" rx="1.4" ry="1.2" fill="#0c30b0" opacity="0.75"/>
<ellipse cx="410.7" cy="654.2" rx="1.1" ry="1.0" fill="#0c30b0" opacity="0.75"/>
<ellipse cx="419.1" cy="631.5" rx="2.2" ry="1.6" fill="#90ecff" opacity="0.75"/>
<ellipse cx="439.7" cy="641.4" rx="0.9" ry="1.1" fill="#0c30b0" opacity="0.75"/>
<ellipse cx="465.6" cy="624.8" rx="1.1" ry="0.8" fill="#50d8ff" opacity="0.75"/>
<ellipse cx="445.9" cy="626.0" rx="1.7" ry="0.7" fill="#50d8ff" opacity="0.75"/>
<ellipse cx="462.9" cy="656.1" rx="1.8" ry="1.1" fill="#0c30b0" opacity="0.75"/>
<ellipse cx="429.3" cy="632.1" rx="1.6" ry="0.8" fill="#0c30b0" opacity="0.75"/>
<ellipse cx="464.0" cy="627.0" rx="2.2" ry="0.8" fill="#0c30b0" opacity="0.75"/>
<ellipse cx="444.2" cy="644.6" rx="1.0" ry="0.7" fill="#2aa0f8" opacity="0.75"/>
<ellipse cx="418.8" cy="644.7" rx="1.0" ry="0.8" fill="#1a50e0" opacity="0.75"/>
<ellipse cx="464.3" cy="640.7" rx="1.4" ry="0.7" fill="#0c30b0" opacity="0.75"/>
<ellipse cx="409.7" cy="622.9" rx="1.0" ry="0.7" fill="#90ecff" opacity="0.75"/>
<ellipse cx="405.9" cy="634.3" rx="2.2" ry="0.7" fill="#2aa0f8" opacity="0.75"/>
<ellipse cx="397.5" cy="635.0" rx="1.0" ry="1.1" fill="#50d8ff" opacity="0.75"/>
<ellipse cx="421.8" cy="655.3" rx="1.5" ry="1.4" fill="#90ecff" opacity="0.75"/>
<ellipse cx="430.1" cy="647.9" rx="1.6" ry="1.5" fill="#0c30b0" opacity="0.75"/>
<ellipse cx="436.8" cy="638.2" rx="1.6" ry="1.1" fill="#1a50e0" opacity="0.75"/>
<ellipse cx="428.9" cy="635.4" rx="1.9" ry="0.9" fill="#2aa0f8" opacity="0.75"/>
<ellipse cx="418.1" cy="652.1" rx="2.2" ry="0.9" fill="#2aa0f8" opacity="0.75"/>
<ellipse cx="406.1" cy="643.1" rx="0.9" ry="1.3" fill="#2aa0f8" opacity="0.75"/>
<ellipse cx="405.0" cy="622.5" rx="2.1" ry="1.5" fill="#1a50e0" opacity="0.75"/>
<ellipse cx="445.0" cy="640.4" rx="1.9" ry="0.7" fill="#1a50e0" opacity="0.75"/>
<ellipse cx="437.7" cy="633.4" rx="1.7" ry="0.8" fill="#0c30b0" opacity="0.75"/>
<ellipse cx="432.4" cy="635.1" rx="1.3" ry="1.0" fill="#1a50e0" opacity="0.75"/>
<ellipse cx="451.0" cy="647.3" rx="1.3" ry="1.4" fill="#90ecff" opacity="0.75"/>
<ellipse cx="417.1" cy="656.2" rx="1.2" ry="0.7" fill="#1a50e0" opacity="0.75"/>
<ellipse cx="412.5" cy="656.8" rx="1.9" ry="0.9" fill="#0c30b0" opacity="0.75"/>
<ellipse cx="464.7" cy="637.9" rx="1.5" ry="1.2" fill="#2aa0f8" opacity="0.75"/>
<ellipse cx="466.1" cy="640.5" rx="1.5" ry="1.3" fill="#50d8ff" opacity="0.75"/>
<ellipse cx="426.2" cy="641.2" rx="1.7" ry="0.9" fill="#2aa0f8" opacity="0.75"/>
<ellipse cx="456.8" cy="635.4" rx="2.3" ry="1.0" fill="#2aa0f8" opacity="0.75"/>
<path d="M398.0,607 L395.3,632" stroke="#0a1e90" stroke-width="1.6" opacity="0.6"/>
<path d="M402.0,607 L404.3,632" stroke="#0a1e90" stroke-width="1.6" opacity="0.6"/>
<path d="M406.0,607 L407.4,632" stroke="#0a1e90" stroke-width="1.6" opacity="0.6"/>
<path d="M410.0,607 L411.3,632" stroke="#0a1e90" stroke-width="1.6" opacity="0.6"/>
<path d="M414.0,607 L411.1,632" stroke="#0a1e90" stroke-width="1.6" opacity="0.6"/>
<path d="M418.0,607 L418.0,632" stroke="#0a1e90" stroke-width="1.6" opacity="0.6"/>
<path d="M422.0,607 L421.6,632" stroke="#3aa0f8" stroke-width="1.6" opacity="0.6"/>
<path d="M426.0,607 L426.5,632" stroke="#3aa0f8" stroke-width="1.6" opacity="0.6"/>
<path d="M430.0,607 L428.9,632" stroke="#3aa0f8" stroke-width="1.6" opacity="0.6"/>
<path d="M434.0,607 L433.2,632" stroke="#3aa0f8" stroke-width="1.6" opacity="0.6"/>
<path d="M438.0,607 L435.8,632" stroke="#3aa0f8" stroke-width="1.6" opacity="0.6"/>
<path d="M442.0,607 L440.3,632" stroke="#0a1e90" stroke-width="1.6" opacity="0.6"/>
<path d="M446.0,607 L444.7,632" stroke="#3aa0f8" stroke-width="1.6" opacity="0.6"/>
<path d="M450.0,607 L447.2,632" stroke="#0a1e90" stroke-width="1.6" opacity="0.6"/>
<path d="M454.0,607 L454.2,632" stroke="#0a1e90" stroke-width="1.6" opacity="0.6"/>
<path d="M458.0,607 L460.0,632" stroke="#3aa0f8" stroke-width="1.6" opacity="0.6"/>
<path d="M462.0,607 L461.6,632" stroke="#3aa0f8" stroke-width="1.6" opacity="0.6"/>
<path d="M466.0,607 L466.1,632" stroke="#0a1e90" stroke-width="1.6" opacity="0.6"/>
<rect x="396.4" y="658.4" width="72" height="5" fill="#4a4d58"/>
<circle cx="431.5" cy="661" r="1.5" fill="#eee"/>
<circle cx="455.0" cy="661" r="1" fill="#ddd"/>
<circle cx="458.6" cy="661" r="1" fill="#ddd"/>
<circle cx="462.2" cy="661" r="1" fill="#ddd"/>
<circle cx="465.8" cy="661" r="1" fill="#ddd"/>
<path d="M546,603 L613,603 Q621.5,603 621.5,612 L621.5,656 Q621.5,665.5 612,665.5 L547,665.5 Q537.5,665.5 537.5,656 L537.5,612 Q537.5,603 546,603 Z" fill="#d5cfc0" stroke="#fff" stroke-opacity="0.7" stroke-width="1.5"/>
<rect x="541" y="607" width="77" height="55" rx="7" fill="none" stroke="#c9c3b4" stroke-width="1.2"/>
<rect x="549.5" y="613" width="63" height="48" rx="1.5" fill="#c8c4bb"/>
<line x1="551.0" y1="614" x2="551.0" y2="660" stroke="#b8b4ac" stroke-width="0.6"/>
<line x1="603.5" y1="614" x2="603.5" y2="660" stroke="#b8b4ac" stroke-width="0.6"/>
<line x1="552.5" y1="614" x2="552.5" y2="660" stroke="#b8b4ac" stroke-width="0.6"/>
<line x1="605.0" y1="614" x2="605.0" y2="660" stroke="#b8b4ac" stroke-width="0.6"/>
<line x1="554.0" y1="614" x2="554.0" y2="660" stroke="#b8b4ac" stroke-width="0.6"/>
<line x1="606.5" y1="614" x2="606.5" y2="660" stroke="#b8b4ac" stroke-width="0.6"/>
<line x1="555.5" y1="614" x2="555.5" y2="660" stroke="#b8b4ac" stroke-width="0.6"/>
<line x1="608.0" y1="614" x2="608.0" y2="660" stroke="#b8b4ac" stroke-width="0.6"/>
<line x1="557.0" y1="614" x2="557.0" y2="660" stroke="#b8b4ac" stroke-width="0.6"/>
<line x1="609.5" y1="614" x2="609.5" y2="660" stroke="#b8b4ac" stroke-width="0.6"/>
<line x1="558.5" y1="614" x2="558.5" y2="660" stroke="#b8b4ac" stroke-width="0.6"/>
<line x1="611.0" y1="614" x2="611.0" y2="660" stroke="#b8b4ac" stroke-width="0.6"/>
<rect x="556.2" y="619" width="50.6" height="28.7" fill="#48a83c"/>
<rect x="556.2" y="619" width="50.6" height="12" fill="#2c2632"/>
<rect x="558" y="623" width="8" height="5" fill="#5a3a50" opacity="0.8"/><rect x="590" y="623" width="14" height="6" fill="#4a3a6a" opacity="0.8"/>
<rect x="556.2" y="630.5" width="50.6" height="1.8" fill="#c8d0c8" opacity="0.8"/>
<path d="M570,624 Q575,621 580,623 L582,630 L578,636 L572,644 L569,643 L574,635 L571,630 Z" fill="#d8401e"/>
<circle cx="577" cy="622" r="1.6" fill="#c06040"/>
<path d="M583,624 Q589,623 591,627 L592,635 L590,642 L586,646 L584,645 L586,638 L581,632 Z" fill="#e8e8f0"/>
<circle cx="587.5" cy="622.5" r="1.5" fill="#d0b090"/>
<circle cx="581.3" cy="654.2" r="1.4" fill="#222"/>
<rect x="544" y="665" width="3" height="2.5" fill="#b8b2a5"/><rect x="612" y="665" width="3" height="2.5" fill="#b8b2a5"/>
<polygon points="729.3,601.3 774,628 745.2,670.7 698.6,640.1" fill="#2a2a2a" stroke="#2a2a2a" stroke-width="3" stroke-linejoin="round"/>
<polygon points="729.3,599.8 775.5,628 745.2,672.2 697.1,640.1" fill="none" stroke="#fff" stroke-opacity="0.45" stroke-width="0.8" stroke-linejoin="round"/>
<g transform="translate(736.7,635.3) rotate(32)">
<circle cx="-1" cy="-7" r="7.3" fill="#f2f2f2"/>
<text x="-1" y="-2" text-anchor="middle" font-family="Liberation Serif" font-weight="bold" font-size="13.5" fill="#222">R</text>
<text x="-8.5" y="-2" text-anchor="end" font-family="Liberation Serif" font-weight="bold" font-size="14" fill="#f4f4f4">A</text>
<text x="6.5" y="-0.5" text-anchor="start" font-family="Liberation Serif" font-weight="bold" font-size="14" fill="#f4f4f4">K</text>
<text x="-3" y="11" text-anchor="middle" font-family="Liberation Sans" font-weight="bold" font-size="9" fill="#eeeeee">ARK7116</text>
<circle cx="13" cy="-9" r="2" fill="none" stroke="#888" stroke-width="0.6"/>
<circle cx="-22" cy="18" r="2.2" fill="#111" stroke="#444" stroke-width="0.6"/>
</g>
<rect x="57.5" y="400.3" width="2.8" height="3.2" rx="0.8" fill="#e4e4e4" transform="rotate(-15 57.5 403.5)"/>
<rect x="62.9" y="398.6" width="2.8" height="3.2" rx="0.8" fill="#e4e4e4" transform="rotate(-15 62.9 401.8)"/>
<rect x="68.3" y="396.8" width="2.8" height="3.2" rx="0.8" fill="#e4e4e4" transform="rotate(-15 68.3 400.0)"/>
<rect x="73.7" y="395.1" width="2.8" height="3.2" rx="0.8" fill="#e4e4e4" transform="rotate(-15 73.7 398.2)"/>
<polygon points="54.2,404.7 75.7,398.3 92.6,405.1 91.2,411.1 69.7,421.6 53.7,409.3" fill="#1c1c1c" stroke="#fff" stroke-opacity="0.5" stroke-width="1.4" stroke-linejoin="round"/>
<polygon points="55.0,405.0 75.7,399.0 91.8,405.5 70.0,415.5" fill="#262626" />
<ellipse cx="75.0" cy="415.0" rx="1.7" ry="1.3" fill="#e8e8e8"/>
<ellipse cx="81.2" cy="412.0" rx="1.7" ry="1.3" fill="#e8e8e8"/>
<ellipse cx="87.4" cy="409.0" rx="1.7" ry="1.3" fill="#e8e8e8"/>
<polygon points="81.2,423.5 104.5,410.6 123.8,418.9 122.8,425.3 101.8,439.0 81.6,428.0" fill="#1c1c1c" stroke="#fff" stroke-opacity="0.5" stroke-width="1.4" stroke-linejoin="round"/>
<polygon points="82.0,424.0 104.5,411.3 123.0,419.2 101.5,432.0" fill="#282828" />
<path d="M106.3,434.2 l0,4 q0,1.5 1.5,1.5 l1.5,0" stroke="#555" stroke-width="3.2" fill="none"/>
<path d="M106.3,434.2 l0,4 q0,1.5 1.5,1.5 l1.5,0" stroke="#c8c8c8" stroke-width="1.8" fill="none"/>
<path d="M112.2,431.1 l0,4 q0,1.5 1.5,1.5 l1.5,0" stroke="#555" stroke-width="3.2" fill="none"/>
<path d="M112.2,431.1 l0,4 q0,1.5 1.5,1.5 l1.5,0" stroke="#c8c8c8" stroke-width="1.8" fill="none"/>
<path d="M118.1,428.0 l0,4 q0,1.5 1.5,1.5 l1.5,0" stroke="#555" stroke-width="3.2" fill="none"/>
<path d="M118.1,428.0 l0,4 q0,1.5 1.5,1.5 l1.5,0" stroke="#c8c8c8" stroke-width="1.8" fill="none"/>
<path d="M124.0,424.9 l0,4 q0,1.5 1.5,1.5 l1.5,0" stroke="#555" stroke-width="3.2" fill="none"/>
<path d="M124.0,424.9 l0,4 q0,1.5 1.5,1.5 l1.5,0" stroke="#c8c8c8" stroke-width="1.8" fill="none"/>
</svg>
</body></html>
